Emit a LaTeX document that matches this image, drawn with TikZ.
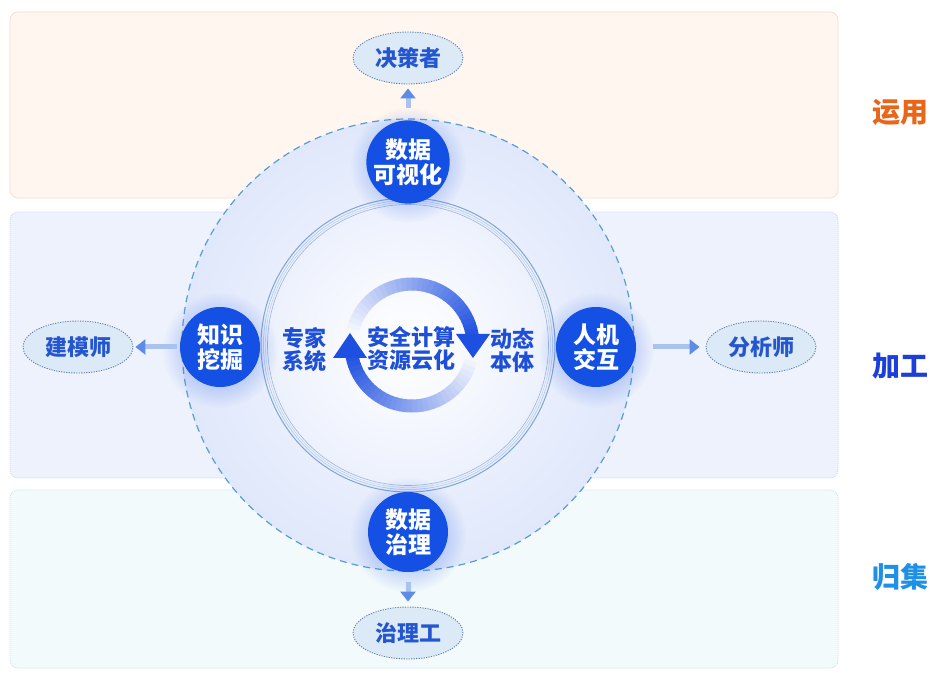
\documentclass[tikz,border=0pt]{standalone}
\usepackage{fontspec}
\newfontfamily\cjk{Noto Sans CJK SC}
\usetikzlibrary{arrows.meta,calc,shapes.geometric,fadings}
\definecolor{topfill}{HTML}{FFF6EF}
\definecolor{topline}{HTML}{F5DDC9}
\definecolor{midfill}{HTML}{EEF2FD}
\definecolor{midline}{HTML}{C5D2EE}
\definecolor{botfill}{HTML}{F3FAFC}
\definecolor{botline}{HTML}{BDE3E6}
\definecolor{bigin}{HTML}{F7F9FF}
\definecolor{bigout}{HTML}{E0E8FB}
\definecolor{dashc}{HTML}{5A9BD6}
\definecolor{ringline}{HTML}{7FA4D6}
\definecolor{ringc}{HTML}{1D4FE0}
\definecolor{bubc}{HTML}{1450E4}
\definecolor{glowc}{HTML}{3A6CE6}
\definecolor{rolefill}{HTML}{DCEAF8}
\definecolor{roleline}{HTML}{5F7FAE}
\definecolor{roletext}{HTML}{2456CF}
\definecolor{midtext}{HTML}{1E4FD8}
\definecolor{flowc}{HTML}{A9C3F0}
\definecolor{flowtip}{HTML}{5C8CE6}
\definecolor{useC}{HTML}{E8651A}
\definecolor{procC}{HTML}{1B3FD8}
\definecolor{collC}{HTML}{1E90E6}
\tikzfading[name=glowfade, inner color=transparent!35, outer color=transparent!100]
\begin{document}
\begin{tikzpicture}[x=1pt,y=1pt,
  band/.style={rounded corners=8pt, line width=0.7pt},
  bubble/.style={circle, fill=bubc, minimum size=80pt, inner sep=0pt, text=white,
    font=\cjk\bfseries\fontsize{23}{25}\selectfont, align=center},
  role/.style={ellipse, fill=rolefill, draw=roleline, line width=0.9pt,
    dash pattern=on 1.2pt off 1.3pt, minimum width=110pt, minimum height=52pt,
    inner sep=0pt, text=roletext, font=\cjk\bfseries\fontsize{22}{24}\selectfont},
  flow/.style={line width=5pt, draw=flowc, -{Triangle[length=10pt,width=15pt,color=flowtip]}},
  midlabel/.style={text=midtext, font=\cjk\bfseries\fontsize{22}{23}\selectfont, align=center, inner sep=0pt},
  layer/.style={font=\cjk\bfseries\fontsize{28}{30}\selectfont, inner sep=0pt},
  glow/.style={fill=glowc, path fading=glowfade}
]
\useasboundingbox (0,0) rectangle (934,675);
\fill[white] (0,0) rectangle (934,675);
% bands
\draw[band, fill=topfill, draw=topline] (10,477) rectangle (838,663);
\draw[band, fill=midfill, draw=midline, dash pattern=on 1pt off 1pt] (10,197) rectangle (838,463);
\draw[band, fill=botfill, draw=botline, dash pattern=on 1pt off 1pt] (10,7) rectangle (838,185);
% big circle
\coordinate (c) at (408,330);
\shade[inner color=bigin, outer color=bigout] (c) circle (226);
\draw[dashc, line width=1.2pt, dash pattern=on 7pt off 5pt] (c) circle (226);
% inner ring region
\shade[inner color=white, outer color=midfill!85!bigout] (c) circle (145);
\draw[ringline, line width=1pt] (c) circle (147);
\draw[ringline!70!white, line width=0.5pt] (c) circle (144.5);
\draw[ringline!60!white, line width=0.4pt] (c) circle (142.5);
\draw[ringline!80!white, line width=0.6pt] (c) circle (140.5);
% circular arrow
\coordinate (rc) at (412,330);
\foreach \i in {0,...,31} {
  \pgfmathsetmacro\a{170-\i*5}
  \pgfmathtruncatemacro\p{4+\i*3}
  \draw[line width=13pt, draw=ringc!\p!white] ($(rc)+(\a:61)$) arc[start angle=\a, end angle=\a-5.6, radius=61];
}
\foreach \i in {0,...,31} {
  \pgfmathsetmacro\a{-10-\i*5}
  \pgfmathtruncatemacro\p{4+\i*3}
  \draw[line width=13pt, draw=ringc!\p!white] ($(rc)+(\a:61)$) arc[start angle=\a, end angle=\a-5.6, radius=61];
}
\fill[ringc] (456,341) -- (490,341) -- (473,317) -- cycle;
\fill[ringc] (333,317) -- (367,317) -- (350,342) -- cycle;
% center texts
\node[midlabel] (core) at (411,326) {安全计算\\资源云化};
\node[midlabel] (expert) at (304,325) {专家\\系统};
\node[midlabel] (onto) at (512,325) {动态\\本体};
% glows
\foreach \p in {(408,510),(220,325),(596,325),(408,140)} {
  \fill[glow] \p circle (58);
}
% bubbles
\node[bubble] (vis) at (408,513) {数据\\可视化};
\node[bubble] (mine) at (220,328) {知识\\挖掘};
\node[bubble] (hci) at (596,328) {人机\\交互};
\node[bubble] (gov) at (408,143) {数据\\治理};
% roles
\node[role] (dm) at (408,617) {决策者};
\node[role] (modeler) at (78,328) {建模师};
\node[role] (analyst) at (761,328) {分析师};
\node[role] (worker) at (408,42) {治理工};
% flows
\draw[flow, shorten <=12pt, shorten >=4pt] (vis) -- (dm);
\draw[flow, shorten <=3pt, shorten >=2pt] (mine) -- (modeler);
\draw[flow, shorten <=17pt, shorten >=6pt] (hci) -- (analyst);
\draw[flow, shorten <=10pt, shorten >=5pt] (gov) -- (worker);
% layer labels
\node[layer, text=useC] (use) at (900,563) {运用};
\node[layer, text=procC] (proc) at (900,309) {加工};
\node[layer, text=collC] (coll) at (900,98) {归集};
\end{tikzpicture}
\end{document}
